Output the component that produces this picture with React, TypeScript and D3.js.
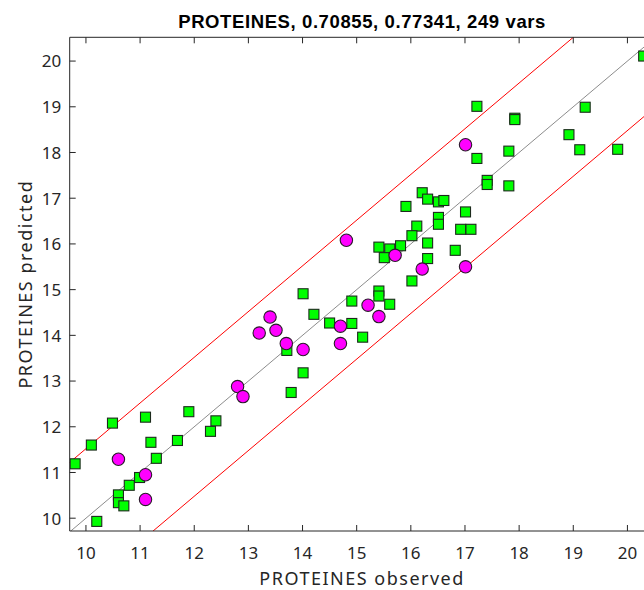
import React, { useEffect, useRef } from "react";
import * as d3 from "d3";

// green squares: observed / predicted
const sqObserved = [
  9.8, 10.1, 10.49, 11.1, 11.2, 11.3, 11.69, 11.9, 12.3, 12.4, 10.8, 10.99, 10.6, 10.6, 10.7, 10.2,
  13.79, 14.01, 14.21, 14.5, 13.71, 14.01, 20.3, 17.22, 17.92, 17.92, 19.22, 18.92, 19.12, 19.82,
  17.81, 17.22, 17.41, 17.41, 17.81, 16.21, 16.31, 16.51, 16.61, 15.91, 17.01, 16.51, 16.51, 16.11,
  16.02, 16.92, 17.11, 16.31, 15.41, 15.61, 15.81, 15.51, 16.31, 16.82, 16.02, 15.41, 15.41, 14.91,
  15.61, 14.91, 15.11,
];
const sqPredicted = [
  11.19, 11.6, 12.08, 12.21, 11.66, 11.31, 11.7, 12.33, 11.9, 12.13, 10.72, 10.89, 10.51, 10.34, 10.27, 9.93,
  12.75, 14.91, 14.46, 14.27, 13.67, 13.18, 20.11, 19.01, 18.75, 18.72, 18.99, 18.39, 18.06, 18.07,
  18.03, 17.87, 17.39, 17.3, 17.27, 17.12, 16.98, 16.92, 16.95, 16.82, 16.7, 16.58, 16.43, 16.39,
  16.18, 16.32, 16.32, 16.02, 15.93, 15.89, 15.96, 15.7, 15.68, 15.86, 15.19, 14.97, 14.86, 14.75,
  14.68, 14.26, 13.96,
];

// magenta circles: observed / predicted
const ciObserved = [
  10.6, 11.1, 11.1, 12.8, 12.9, 13.2, 13.4, 13.51, 13.7, 14.01, 14.7, 14.7, 17.01, 14.81, 15.71,
  16.21, 17.01, 15.21, 15.41,
];
const ciPredicted = [
  11.29, 10.95, 10.41, 12.88, 12.66, 14.05, 14.4, 14.11, 13.82, 13.69, 14.2, 13.82, 18.17, 16.08, 15.75,
  15.45, 15.5, 14.66, 14.41,
];

const ticks = [10, 11, 12, 13, 14, 15, 16, 17, 18, 19, 20];
const band = 1.52;

const title = "PROTEINES, 0.70855, 0.77341, 249 vars";
const xTitle = "PROTEINES observed";
const yTitle = "PROTEINES predicted";

export default function App() {
  const ref = useRef<SVGSVGElement>(null);

  useEffect(() => {
    const svg = d3.select(ref.current);
    svg.selectAll("*").remove();

    const left = 69.7, right = 654.5, top = 37.3, bottom = 531;
    const x = d3.scaleLinear().domain([9.7, 20.5]).range([left, right]);
    const y = d3.scaleLinear().domain([9.72, 20.52]).range([bottom, top]);
    const axisColor = "#262626";
    const font = "'Noto Sans', sans-serif";

    svg.append("defs").append("clipPath").attr("id", "plotclip")
      .append("rect")
      .attr("x", left).attr("y", top)
      .attr("width", right - left).attr("height", bottom - top);

    const plot = svg.append("g").attr("clip-path", "url(#plotclip)");

    const lo = 9, hi = 22;
    const lines = [
      { off: 0, color: "#8c8c8c" },
      { off: band, color: "#ff0000" },
      { off: -band, color: "#ff0000" },
    ];
    lines.forEach((l) => {
      plot.append("line")
        .attr("x1", x(lo)).attr("y1", y(lo + l.off))
        .attr("x2", x(hi)).attr("y2", y(hi + l.off))
        .attr("stroke", l.color)
        .attr("stroke-width", 1);
    });

    const sq = 10;
    plot.selectAll(".sq")
      .data(sqObserved.map((o, i) => [o, sqPredicted[i]]))
      .enter()
      .append("rect")
      .attr("class", "sq")
      .attr("x", (d) => x(d[0]) - sq / 2)
      .attr("y", (d) => y(d[1]) - sq / 2)
      .attr("width", sq)
      .attr("height", sq)
      .attr("fill", "#00ff00")
      .attr("stroke", "#1c2a1c")
      .attr("stroke-width", 1.1);

    plot.selectAll(".ci")
      .data(ciObserved.map((o, i) => [o, ciPredicted[i]]))
      .enter()
      .append("circle")
      .attr("class", "ci")
      .attr("cx", (d) => x(d[0]))
      .attr("cy", (d) => y(d[1]))
      .attr("r", 6.2)
      .attr("fill", "#ff00ff")
      .attr("stroke", "#2a1a2a")
      .attr("stroke-width", 1.1);

    // box
    const frame = svg.append("g").attr("stroke", axisColor).attr("stroke-width", 1);
    frame.append("line").attr("x1", left).attr("x2", right).attr("y1", bottom).attr("y2", bottom);
    frame.append("line").attr("x1", left).attr("x2", right).attr("y1", top).attr("y2", top);
    frame.append("line").attr("x1", left).attr("x2", left).attr("y1", top).attr("y2", bottom);
    frame.append("line").attr("x1", right).attr("x2", right).attr("y1", top).attr("y2", bottom);

    const tl = 6;
    ticks.forEach((t) => {
      frame.append("line").attr("x1", x(t)).attr("x2", x(t)).attr("y1", bottom).attr("y2", bottom - tl);
      frame.append("line").attr("x1", x(t)).attr("x2", x(t)).attr("y1", top).attr("y2", top + tl);
      frame.append("line").attr("x1", left).attr("x2", left + tl).attr("y1", y(t)).attr("y2", y(t));
      frame.append("line").attr("x1", right).attr("x2", right - tl).attr("y1", y(t)).attr("y2", y(t));

      svg.append("text")
        .attr("x", x(t)).attr("y", bottom + 28)
        .attr("text-anchor", "middle")
        .attr("font-family", font).attr("font-size", 17)
        .attr("fill", axisColor)
        .text(t);
      svg.append("text")
        .attr("x", left - 8.5).attr("y", y(t) + 6.3)
        .attr("text-anchor", "end")
        .attr("font-family", font).attr("font-size", 17)
        .attr("fill", axisColor)
        .text(t);
    });

    svg.append("text")
      .attr("x", (left + right) / 2).attr("y", 585)
      .attr("text-anchor", "middle")
      .attr("font-family", font).attr("font-size", 18)
      .attr("letter-spacing", 1.5)
      .attr("fill", axisColor)
      .text(xTitle);

    svg.append("text")
      .attr("transform", `translate(31.5, ${(top + bottom) / 2}) rotate(-90)`)
      .attr("text-anchor", "middle")
      .attr("font-family", font).attr("font-size", 18)
      .attr("letter-spacing", 1.5)
      .attr("fill", axisColor)
      .text(yTitle);

    svg.append("text")
      .attr("x", (left + right) / 2).attr("y", 27.5)
      .attr("text-anchor", "middle")
      .attr("font-family", "'Liberation Sans', Arial, sans-serif")
      .attr("font-weight", "bold")
      .attr("font-size", 18.5)
      .attr("letter-spacing", 0.6)
      .attr("fill", "#000")
      .text(title);
  }, []);

  return (
    <svg
      ref={ref}
      width={644}
      height={590}
      style={{ position: "absolute", left: 0, top: 0, background: "#fff" }}
    />
  );
}
